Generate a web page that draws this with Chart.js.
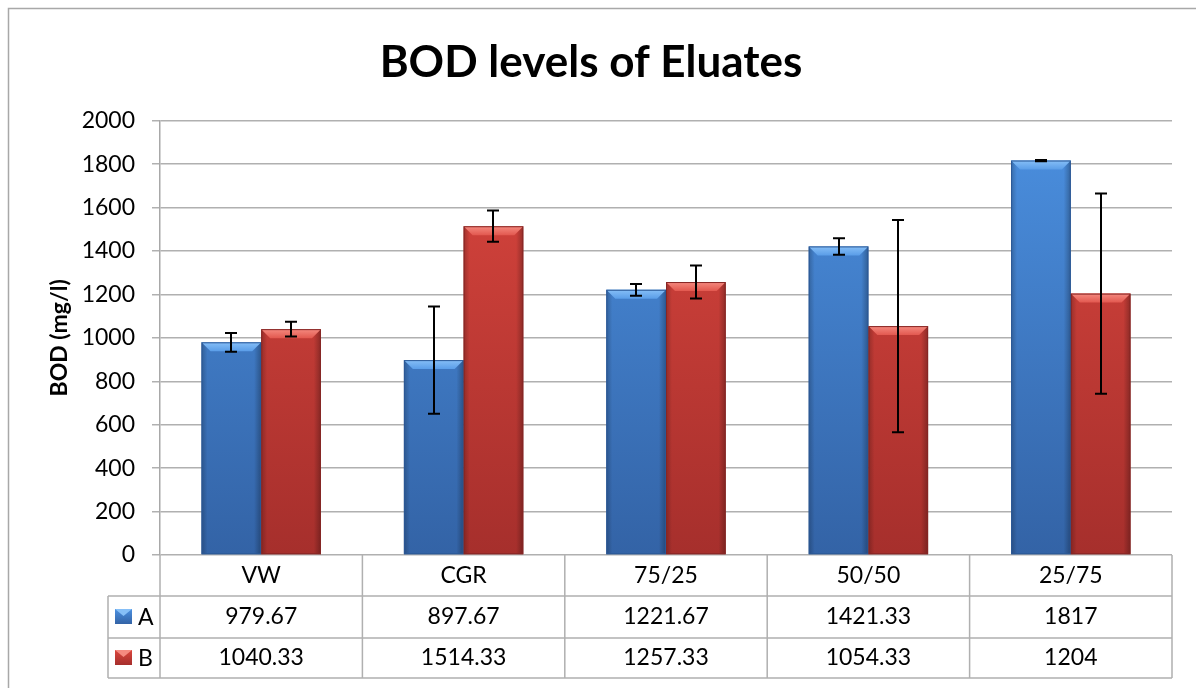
<!DOCTYPE html>
<html><head><meta charset="utf-8">
<script src="https://cdn.jsdelivr.net/npm/chart.js@4/dist/chart.umd.min.js"></script>
<style>html,body{margin:0;padding:0;background:#fff}canvas{display:block}</style>
</head><body>
<canvas id="c" width="1196" height="688"></canvas>
<script>
// ---- data ----
const categories = ['VW', 'CGR', '75/25', '50/50', '25/75'];
const seriesNames = ['A', 'B'];
const valuesA = [979.67, 897.67, 1221.67, 1421.33, 1817];
const valuesB = [1040.33, 1514.33, 1257.33, 1054.33, 1204];
const errorA = [43, 247, 27, 38, 3];
const errorB = [34, 72, 76, 489, 461];
const yMin = 0, yMax = 2000, yStep = 200;
const chartTitle = 'BOD levels of Eluates';
const yTitle = 'BOD (mg/l)';

// ---- styles ----
const FONT = 'Lato';
const TXT = 23;
const palette = [
  {top:'#4b90e0', bot:'#3363a6', hiTop:'#86bff7', hiBot:'#5a9de8', edge:'#2b5896'},
  {top:'#da463e', bot:'#a62f2c', hiTop:'#f58a80', hiBot:'#e2584f', edge:'#862624'}
];
const errors = [errorA, errorB];
const tableRows = [valuesA, valuesB];

function vGrad(ctx, p) {
  const c = ctx.chart, a = c.chartArea;
  if (!a) return p.top;
  const g = c.ctx.createLinearGradient(0, a.top, 0, a.bottom);
  g.addColorStop(0, p.top); g.addColorStop(1, p.bot);
  return g;
}

const bgPlugin = {
  id: 'bg',
  beforeDraw(chart) {
    const c = chart.ctx;
    c.save();
    c.fillStyle = '#fff';
    c.fillRect(0, 0, chart.width, chart.height);
    c.strokeStyle = '#a8a8a8';
    c.lineWidth = 1.5;
    c.strokeRect(8.5, 8.5, chart.width + 20, chart.height + 20);
    c.restore();
  }
};

const barFx = {
  id: 'barFx',
  afterDatasetsDraw(chart) {
    const c = chart.ctx;
    const ys = chart.scales.y;
    c.save();
    chart.data.datasets.forEach((ds, di) => {
      const p = palette[di];
      chart.getDatasetMeta(di).data.forEach((el, i) => {
        const w = el.width, l = el.x - w / 2, r = el.x + w / 2, t = el.y, b = el.base;
        const sg = c.createLinearGradient(l, 0, r, 0);
        sg.addColorStop(0, 'rgba(0,0,0,0.22)');
        sg.addColorStop(0.1, 'rgba(0,0,0,0)');
        sg.addColorStop(0.88, 'rgba(0,0,0,0)');
        sg.addColorStop(1, 'rgba(0,0,0,0.28)');
        c.fillStyle = sg;
        c.fillRect(l, t, w, b - t);
        const bv = 9;
        const hg = c.createLinearGradient(0, t, 0, t + bv);
        hg.addColorStop(0, p.hiTop); hg.addColorStop(1, p.hiBot);
        c.fillStyle = hg;
        c.beginPath();
        c.moveTo(l, t); c.lineTo(r, t); c.lineTo(r - bv, t + bv); c.lineTo(l + bv, t + bv); c.closePath();
        c.fill();
        c.strokeStyle = p.edge; c.lineWidth = 1;
        c.strokeRect(l + 0.5, t + 0.5, w - 1, b - t - 1);
      });
    });
    c.strokeStyle = '#000'; c.lineWidth = 2;
    chart.data.datasets.forEach((ds, di) => {
      chart.getDatasetMeta(di).data.forEach((el, i) => {
        const v = ds.data[i], e = errors[di][i];
        const y1 = ys.getPixelForValue(v + e), y2 = ys.getPixelForValue(v - e);
        const x = Math.round(el.x);
        c.beginPath();
        c.moveTo(x, y1); c.lineTo(x, y2);
        c.moveTo(x - 6, y1); c.lineTo(x + 6, y1);
        c.moveTo(x - 6, y2); c.lineTo(x + 6, y2);
        c.stroke();
      });
    });
    c.restore();
  }
};

const tablePlugin = {
  id: 'dataTable',
  afterDraw(chart) {
    const c = chart.ctx, a = chart.chartArea, xs = chart.scales.x;
    const n = categories.length;
    const cw = (xs.right - xs.left) / n;
    const y0 = a.bottom, y1 = y0 + 41, y2 = y0 + 83, y3 = y0 + 123;
    const legL = a.left - 52;
    c.save();
    c.strokeStyle = '#b0b0b0'; c.lineWidth = 1.5;
    c.beginPath();
    for (let i = 0; i <= n; i++) {
      const x = i < n ? xs.getPixelForValue(i) - cw / 2 : xs.getPixelForValue(n - 1) + cw / 2;
      c.moveTo(x, y0); c.lineTo(x, y3);
    }
    [y1, y2, y3].forEach(y => { c.moveTo(legL, y); c.lineTo(xs.right, y); });
    c.moveTo(legL, y1); c.lineTo(legL, y3);
    c.stroke();
    c.fillStyle = '#000';
    c.font = TXT + 'px ' + FONT;
    c.textBaseline = 'middle';
    const rowC = [(y1 + y2) / 2, (y2 + y3) / 2];
    tableRows.forEach((row, ri) => {
      c.textAlign = 'center';
      c.fillStyle = '#000';
      row.forEach((v, i) => c.fillText(String(v), xs.getPixelForValue(i), rowC[ri]));
      const p = palette[ri];
      const kx = legL + 7, ky = rowC[ri] - 8, kw = 17, kh = 15;
      const g = c.createLinearGradient(0, ky, 0, ky + kh);
      g.addColorStop(0, p.top); g.addColorStop(1, p.bot);
      c.fillStyle = g; c.fillRect(kx, ky, kw, kh);
      c.fillStyle = p.hiTop;
      c.beginPath(); c.moveTo(kx, ky); c.lineTo(kx + kw, ky); c.lineTo(kx + kw / 2, ky + 7); c.closePath(); c.fill();
      c.fillStyle = '#000'; c.textAlign = 'left';
      c.fillText(seriesNames[ri], legL + 30, rowC[ri] + 1);
    });
    c.restore();
  }
};

new Chart(document.getElementById('c'), {
  type: 'bar',
  data: {
    labels: categories,
    datasets: [
      {label: seriesNames[0], data: valuesA, backgroundColor: ctx => vGrad(ctx, palette[0]), borderWidth: 0},
      {label: seriesNames[1], data: valuesB, backgroundColor: ctx => vGrad(ctx, palette[1]), borderWidth: 0}
    ]
  },
  options: {
    responsive: false,
    animation: false,
    layout: {padding: {left: 10, right: 24, top: 0, bottom: 0}},
    datasets: {bar: {categoryPercentage: 0.59, barPercentage: 1}},
    plugins: {
      legend: {display: false},
      tooltip: {enabled: false},
      title: {display: true, text: chartTitle, color: '#000',
        font: {family: FONT, size: 44, weight: 'bold'}, padding: {top: 36, bottom: 32}}
    },
    scales: {
      x: {
        grid: {display: false, drawTicks: false},
        border: {display: false},
        ticks: {color: '#000', font: {family: FONT, size: TXT}, padding: 7},
        afterFit: s => { s.height = 133; }
      },
      y: {
        min: yMin, max: yMax,
        ticks: {stepSize: yStep, color: '#000', font: {family: FONT, size: TXT}, padding: 17,
          callback: v => String(v)},
        grid: {color: '#b0b0b0', lineWidth: 1.5, tickLength: 8},
        border: {color: '#a8a8a8', width: 1.5},
        title: {display: true, text: yTitle, color: '#000', font: {family: FONT, size: 23, weight: 'bold'}, padding: {top: 36, bottom: 0}},
        afterFit: s => { s.width = 150; }
      }
    }
  },
  plugins: [bgPlugin, barFx, tablePlugin]
});
</script>
</body></html>
